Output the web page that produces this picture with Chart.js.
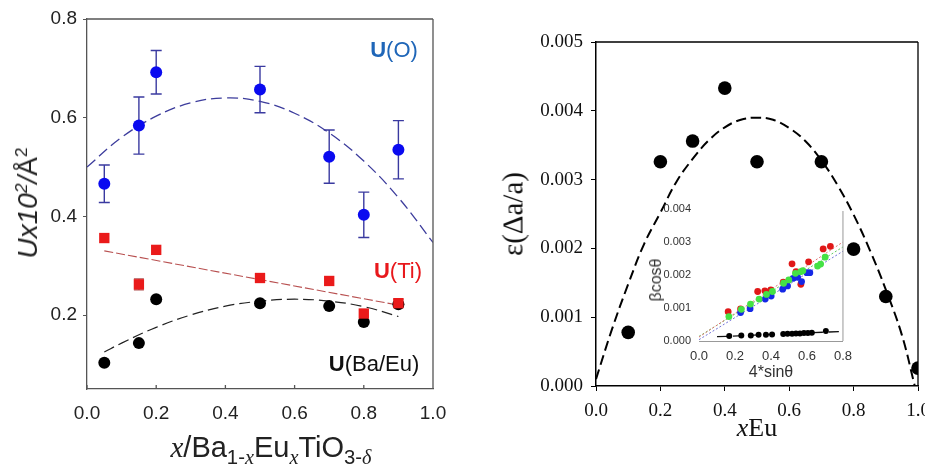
<!DOCTYPE html>
<html>
<head>
<meta charset="utf-8">
<script src="https://cdn.jsdelivr.net/npm/chart.js@4.4.1/dist/chart.umd.min.js"></script>
<style>
body { margin:0; width:925px; height:475px; overflow:hidden; background:#fff; position:relative; }
.box { position:absolute; }
.lbl { position:absolute; white-space:nowrap; transform:translate(-50%,-50%); line-height:1; }
.rot { transform:translate(-50%,-50%) rotate(-90deg); }
.sans { font-family:"Liberation Sans", Arial, sans-serif; }
.serif { font-family:"Liberation Serif", "Times New Roman", serif; }
.sb { font-size:0.7em; position:relative; top:0.33em; }
.sp { font-size:0.62em; position:relative; top:-0.55em; }
</style>
</head>
<body>
<div class="box" style="left:0;top:-20px"><canvas id="leftChart" width="460" height="495"></canvas></div>
<div class="box" style="left:460px;top:0"><canvas id="rightChart" width="480" height="475"></canvas></div>
<div class="box" style="left:600px;top:185px"><canvas id="insetChart" width="260" height="205"></canvas></div>

<!-- left panel texts -->
<div class="lbl rot sans" style="left:28px;top:203px;font-size:28px;color:#222"><i>Ux10</i><span class="sp"><i>2</i></span><i>/</i>Å<span class="sp">2</span></div>
<div class="lbl sans" style="left:271px;top:447px;font-size:29px;color:#222"><i class="serif">x</i>/Ba<span class="sb">1-<i class="serif">x</i></span>Eu<span class="sb"><i class="serif">x</i></span>TiO<span class="sb">3-<i class="serif">δ</i></span></div>
<div class="lbl sans" style="left:394px;top:50px;font-size:22px;color:#1f66b8"><b>U</b>(O)</div>
<div class="lbl sans" style="left:398px;top:271px;font-size:22px;color:#e8181c"><b>U</b>(Ti)</div>
<div class="lbl sans" style="left:374px;top:364px;font-size:22px;color:#111"><b>U</b>(Ba/Eu)</div>

<!-- right panel texts -->
<div class="lbl rot serif" style="left:513px;top:214px;font-size:29px;color:#111">ε(Δa/a)</div>
<div class="lbl serif" style="left:757px;top:428px;font-size:26px;color:#111"><i>x</i>Eu</div>
<div class="lbl rot sans" style="left:656px;top:280px;font-size:16px;color:#333">βcosθ</div>
<div class="lbl sans" style="left:771px;top:372px;font-size:16px;color:#333">4*sinθ</div>

<script>
// ---- left panel: U x10^2 vs x ----
const uX = [0.05, 0.15, 0.2, 0.5, 0.7, 0.8, 0.9];
const uO = [0.466, 0.584, 0.692, 0.657, 0.521, 0.403, 0.535];
const uOErr = [0.038, 0.058, 0.044, 0.047, 0.054, 0.046, 0.059];
const uTi = [0.356, 0.262, 0.332, 0.275, 0.269, 0.203, 0.224];
const uTiErr = [0, 0.011, 0, 0, 0, 0, 0.008];
const uBa = [0.103, 0.143, 0.232, 0.224, 0.218, 0.186, 0.222];

// fitted curves
const fitOX = [0, 0.1, 0.2, 0.3, 0.4, 0.5, 0.6, 0.7, 0.8, 0.9, 1.0];
const fitOY = [0.500, 0.560, 0.603, 0.630, 0.640, 0.633, 0.609, 0.569, 0.512, 0.438, 0.347];
const fitTiX = [0.05, 0.9];
const fitTiY = [0.330, 0.220];
const fitBaX = [0.05, 0.1, 0.2, 0.3, 0.4, 0.5, 0.6, 0.7, 0.8, 0.9];
const fitBaY = [0.125, 0.143, 0.175, 0.200, 0.218, 0.228, 0.232, 0.228, 0.217, 0.197];

const leftYTicks = [0.2, 0.4, 0.6, 0.8];

// ---- right panel: strain vs xEu ----
const strainX = [0.1, 0.2, 0.3, 0.4, 0.5, 0.7, 0.8, 0.9, 1.0];
const strainY = [0.00078, 0.00326, 0.00356, 0.00433, 0.00326, 0.00326, 0.00199, 0.00130, 0.00026];
const strainFitX = [0, 0.05, 0.1, 0.15, 0.2, 0.25, 0.3, 0.35, 0.4, 0.45, 0.5, 0.55, 0.6, 0.65, 0.7, 0.75, 0.8, 0.85, 0.9, 0.95, 0.99];
const strainFitY = [0.0001, 0.00083, 0.00148, 0.00207, 0.00252, 0.00297, 0.00330, 0.00357, 0.00376, 0.00387, 0.00390,
    0.00387, 0.00375, 0.00356, 0.00328, 0.00292, 0.00249, 0.00198, 0.00140, 0.00074, 0.0];

// ---- inset: Williamson-Hall ----
const redX = [0.162, 0.231, 0.326, 0.366, 0.399, 0.468, 0.517, 0.539, 0.566, 0.609, 0.690, 0.730];
const redY = [0.00089, 0.00097, 0.00150, 0.00152, 0.00155, 0.00178, 0.00234, 0.00210, 0.00172, 0.00240, 0.00279, 0.00287];
const blueX = [0.231, 0.284, 0.368, 0.401, 0.465, 0.492, 0.523, 0.548, 0.570, 0.599, 0.616];
const blueY = [0.00086, 0.00098, 0.00127, 0.00136, 0.00157, 0.00167, 0.00190, 0.00193, 0.00180, 0.00207, 0.00207];
const greenX = [0.166, 0.235, 0.286, 0.334, 0.375, 0.408, 0.470, 0.499, 0.536, 0.565, 0.577, 0.659, 0.676, 0.701];
const greenY = [0.00074, 0.00096, 0.00112, 0.00127, 0.00141, 0.00150, 0.00175, 0.00185, 0.00205, 0.00210, 0.00213, 0.00227, 0.00233, 0.00254];
const blackX = [0.168, 0.235, 0.288, 0.331, 0.372, 0.406, 0.468, 0.492, 0.517, 0.539, 0.561, 0.583, 0.605, 0.627, 0.705];
const blackY = [0.00015, 0.00017, 0.00017, 0.00019, 0.00019, 0.00020, 0.00021, 0.00022, 0.00022, 0.00023, 0.00023, 0.00024, 0.00024, 0.00025, 0.00030];
const insetLineX = [0, 0.8];
const redFitY = [0.00012, 0.00300];
const greenFitY = [0.00014, 0.00285];
const blueFitY = [0.00004, 0.00272];
const blackLineX = [0.1, 0.8];
const blackLineY = [0.00013, 0.00029];

function pts(xs, ys) {
    return xs.map((x, i) => ({ x: x, y: ys[i] }));
}

// error bars drawn under the markers
const errorBars = {
    id: 'errorBars',
    beforeDatasetsDraw(chart) {
        const ctx = chart.ctx, xs = chart.scales.x, ys = chart.scales.y;
        chart.data.datasets.forEach(ds => {
            if (!ds.errors) return;
            ctx.save();
            ctx.strokeStyle = ds.errorColor;
            ctx.lineWidth = 1.4;
            ds.data.forEach((p, i) => {
                const e = ds.errors[i];
                if (!e) return;
                const x = xs.getPixelForValue(p.x);
                const y1 = ys.getPixelForValue(p.y + e), y2 = ys.getPixelForValue(p.y - e);
                ctx.beginPath();
                ctx.moveTo(x, y1); ctx.lineTo(x, y2);
                ctx.moveTo(x - ds.capHalf, y1); ctx.lineTo(x + ds.capHalf, y1);
                ctx.moveTo(x - ds.capHalf, y2); ctx.lineTo(x + ds.capHalf, y2);
                ctx.stroke();
            });
            ctx.restore();
        });
    }
};

// top / right frame lines and inward x tick marks
function makeFrame(o) {
    return {
        id: 'frame',
        afterDraw(chart) {
            const a = chart.chartArea, ctx = chart.ctx;
            ctx.save();
            ctx.strokeStyle = o.color;
            ctx.lineWidth = o.width;
            ctx.beginPath();
            if (o.top) { ctx.moveTo(a.left, a.top); ctx.lineTo(a.right, a.top); }
            if (o.right) { ctx.moveTo(a.right, o.top ? a.top : a.top + 2); ctx.lineTo(a.right, a.bottom); }
            if (o.inTicks) {
                chart.scales.x.ticks.forEach(t => {
                    const px = chart.scales.x.getPixelForValue(t.value);
                    ctx.moveTo(px, a.bottom); ctx.lineTo(px, a.bottom - o.inTicks);
                });
            }
            ctx.stroke();
            ctx.restore();
        }
    };
}

Chart.defaults.animation = false;
Chart.defaults.plugins.legend.display = false;
Chart.defaults.plugins.tooltip.enabled = false;

// ---------- left chart ----------
var leftConfig = {
    type: 'scatter',
    data: {
        datasets: [
            { data: pts(uX, uO), backgroundColor: '#0a0af0', pointRadius: 6, borderWidth: 0,
              errors: uOErr, errorColor: '#3a3aa0', capHalf: 5.5 },
            { data: pts(uX, uTi), backgroundColor: '#ea1a1a', pointStyle: 'rect', pointRadius: 7.3, borderWidth: 0,
              errors: uTiErr, errorColor: '#b05050', capHalf: 5 },
            { data: pts(uX, uBa), backgroundColor: '#000', pointRadius: 6, borderWidth: 0 },
            { data: pts(fitOX, fitOY), showLine: true, pointRadius: 0, borderColor: '#3c3c9c', borderWidth: 1.3,
              borderDash: [11, 5], tension: 0.4 },
            { data: pts(fitTiX, fitTiY), showLine: true, pointRadius: 0, borderColor: '#b85050', borderWidth: 1.1,
              borderDash: [9, 3] },
            { data: pts(fitBaX, fitBaY), showLine: true, pointRadius: 0, borderColor: '#222', borderWidth: 1.2,
              borderDash: [11, 5], tension: 0.4 }
        ]
    },
    options: {
        responsive: false,
        layout: { padding: { top: 39, right: 27, left: 0, bottom: 0 } },
        scales: {
            x: {
                min: 0, max: 1,
                ticks: { stepSize: 0.2, padding: 13, color: '#222', font: { family: 'Liberation Sans', size: 19 },
                         callback: v => v.toFixed(1) },
                grid: { display: false, drawTicks: false },
                border: { color: '#555', width: 1.3 },
                afterFit: s => { s.height = 86; }
            },
            y: {
                min: 0.05, max: 0.8,
                afterBuildTicks: s => { s.ticks = leftYTicks.map(v => ({ value: v })); },
                ticks: { padding: 6, color: '#222', font: { family: 'Liberation Sans', size: 19 },
                         callback: v => v.toFixed(1) },
                grid: { drawOnChartArea: false, tickLength: 4, color: '#555' },
                border: { color: '#555', width: 1.3 },
                afterFit: s => { s.width = 87; }
            }
        }
    },
    plugins: [errorBars, makeFrame({ color: '#555', width: 1.3, top: true, right: true, inTicks: 4 })]
};
new Chart(document.getElementById('leftChart'), leftConfig);

// ---------- right chart ----------
var rightConfig = {
    type: 'scatter',
    data: {
        datasets: [
            { data: pts(strainX, strainY), backgroundColor: '#000', pointRadius: 6.8, borderWidth: 0 },
            { data: pts(strainFitX, strainFitY), showLine: true, pointRadius: 0, borderColor: '#000', borderWidth: 2,
              borderDash: [10, 5], tension: 0.4 }
        ]
    },
    options: {
        responsive: false,
        layout: { padding: { top: 42, right: 22, left: 0, bottom: 0 } },
        scales: {
            x: {
                min: 0, max: 1,
                ticks: { stepSize: 0.2, padding: 9, color: '#111', font: { family: 'Liberation Serif', size: 19 },
                         callback: v => v.toFixed(1) },
                grid: { drawOnChartArea: false, tickLength: 5, color: '#000' },
                border: { color: '#000', width: 1.5 },
                afterFit: s => { s.height = 89; }
            },
            y: {
                min: 0, max: 0.005,
                ticks: { stepSize: 0.001, padding: 8, color: '#111', font: { family: 'Liberation Serif', size: 19 },
                         callback: v => v.toFixed(3) },
                grid: { drawOnChartArea: false, tickLength: 5, color: '#000' },
                border: { color: '#000', width: 1.5 },
                afterFit: s => { s.width = 136; }
            }
        }
    },
    plugins: [makeFrame({ color: '#000', width: 1.3, top: true, right: true })]
};
new Chart(document.getElementById('rightChart'), rightConfig);

// ---------- inset ----------
var insetConfig = {
    type: 'scatter',
    data: {
        datasets: [
            { data: pts(blackX, blackY), backgroundColor: '#000', pointRadius: 3, borderWidth: 0 },
            { data: pts(greenX, greenY), backgroundColor: '#44e244', pointRadius: 3.4, borderWidth: 0 },
            { data: pts(blueX, blueY), backgroundColor: '#1428e6', pointRadius: 3.4, borderWidth: 0 },
            { data: pts(redX, redY), backgroundColor: '#e01818', pointRadius: 3.4, borderWidth: 0 },
            { data: pts(blackLineX, blackLineY), showLine: true, pointRadius: 0, borderColor: '#111', borderWidth: 1.3,
              borderDash: [10, 6] },
            { data: pts(insetLineX, redFitY), showLine: true, pointRadius: 0, borderColor: '#e07070', borderWidth: 1,
              borderDash: [2, 2] },
            { data: pts(insetLineX, greenFitY), showLine: true, pointRadius: 0, borderColor: '#60c860', borderWidth: 1,
              borderDash: [2, 2] },
            { data: pts(insetLineX, blueFitY), showLine: true, pointRadius: 0, borderColor: '#7070d8', borderWidth: 1,
              borderDash: [2, 2] }
        ]
    },
    options: {
        responsive: false,
        layout: { padding: { top: 24, right: 16, left: 0, bottom: 0 } },
        scales: {
            x: {
                min: 0, max: 0.8,
                ticks: { stepSize: 0.2, padding: 8, color: '#333', font: { family: 'Liberation Sans', size: 13 },
                         callback: v => v.toFixed(1) },
                grid: { display: false, drawTicks: false },
                border: { color: '#999', width: 1 },
                afterFit: s => { s.height = 49; }
            },
            y: {
                min: 0, max: 0.004,
                ticks: { stepSize: 0.001, padding: 8, color: '#333', font: { family: 'Liberation Sans', size: 11 },
                         callback: v => v.toFixed(3) },
                grid: { display: false, drawTicks: false },
                border: { display: false },
                afterFit: s => { s.width = 99; }
            }
        }
    },
    plugins: [makeFrame({ color: '#999', width: 1, top: false, right: true })]
};
new Chart(document.getElementById('insetChart'), insetConfig);
</script>
</body>
</html>
